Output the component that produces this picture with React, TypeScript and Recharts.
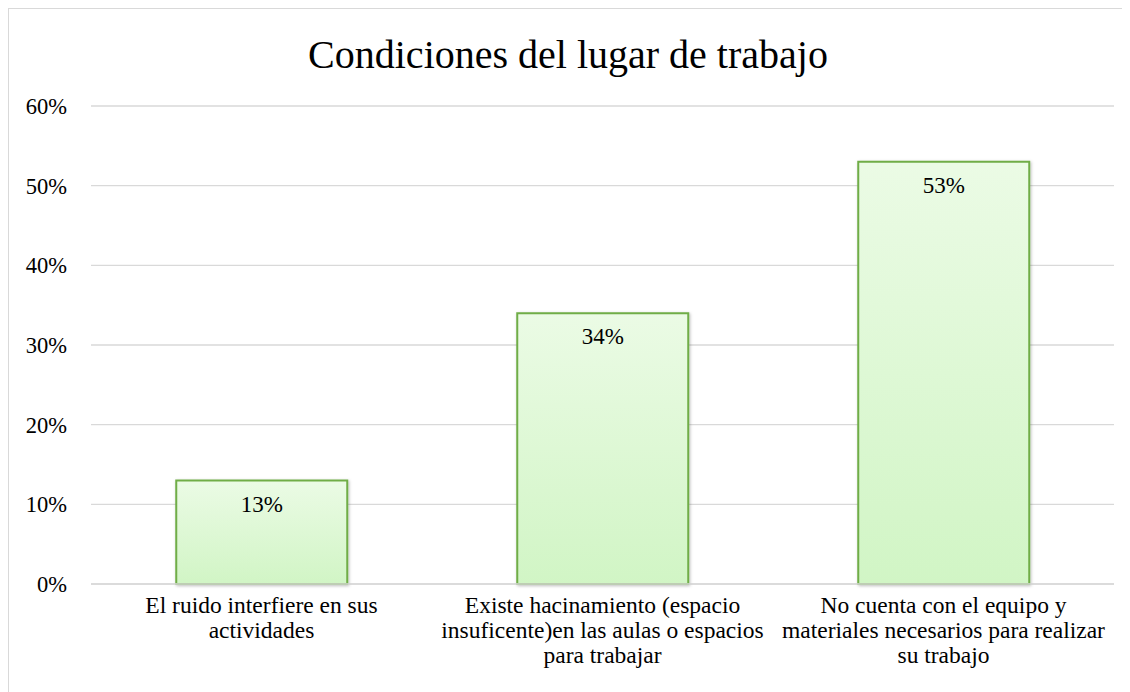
import React from 'react';
import { BarChart, Bar, XAxis, YAxis, CartesianGrid, LabelList } from 'recharts';

// Datos del gráfico
const categorias = [
  'El ruido interfiere en sus\nactividades',
  'Existe hacinamiento (espacio\ninsuficente)en las aulas o espacios\npara trabajar',
  'No cuenta con el equipo y\nmateriales necesarios para realizar\nsu trabajo',
];
const porcentajes = [13, 34, 53];
const ticksY = [0, 10, 20, 30, 40, 50, 60];

const titulo = 'Condiciones del lugar de trabajo';

const data = categorias.map((c, i) => ({ categoria: c, valor: porcentajes[i] }));

const FONT = '"Liberation Serif", "Times New Roman", serif';

// Tick del eje X en varias líneas
const CategoriaTick = ({ x, y, payload }: any) => {
  const lineas = String(payload.value).split('\n');
  return (
    <text x={x} y={y} textAnchor="middle" fill="#000" style={{ fontFamily: FONT, fontSize: 23.5 }}>
      {lineas.map((l, i) => (
        <tspan key={i} x={x} dy={i === 0 ? 21 : 25}>{l}</tspan>
      ))}
    </text>
  );
};

export default function App() {
  return (
    <div
      style={{
        width: 1118,
        height: 700,
        border: '1px solid #d9d9d9',
        position: 'relative',
        background: '#fff',
        fontFamily: FONT,
      }}
    >
      <div
        style={{
          position: 'absolute',
          top: 23,
          left: 0,
          width: '100%',
          textAlign: 'center',
          fontSize: 40,
          lineHeight: '46px',
          color: '#000',
        }}
      >
        {titulo}
      </div>
      <BarChart
        width={1118}
        height={700}
        data={data}
        margin={{ top: 97, right: 13, bottom: 25, left: 12 }}
        barCategoryGap="25%"
        style={{ fontFamily: FONT }}
      >
        <defs>
          <linearGradient id="verde" x1="0" y1="0" x2="0" y2="1">
            <stop offset="0%" stopColor="#ebfbe5" />
            <stop offset="100%" stopColor="#d1f5c5" />
          </linearGradient>
          <filter id="sombra" x="-10%" y="-10%" width="120%" height="120%">
            <feDropShadow dx="1" dy="1" stdDeviation="1.5" floodColor="#000" floodOpacity="0.25" />
          </filter>
        </defs>
        <CartesianGrid vertical={false} stroke="#d9d9d9" strokeWidth={1.3} />
        <XAxis
          dataKey="categoria"
          axisLine={{ stroke: '#d9d9d9', strokeWidth: 1.3 }}
          tickLine={false}
          interval={0}
          height={100}
          tick={<CategoriaTick />}
        />
        <YAxis
          domain={[0, 60]}
          ticks={ticksY}
          tickFormatter={(v: number) => `${v}%`}
          axisLine={false}
          tickLine={false}
          width={70}
          tickMargin={18}
          tick={{ fill: '#000', fontSize: 22.5, style: { fontFamily: FONT } }}
        />
        <Bar
          dataKey="valor"
          fill="url(#verde)"
          stroke="#70ad47"
          strokeWidth={2}
          filter="url(#sombra)"
          isAnimationActive={false}
        >
          <LabelList
            dataKey="valor"
            position="insideTop"
            offset={15}
            formatter={(v: any) => `${v}%`}
            style={{ fill: '#000', fontSize: 23, fontFamily: FONT }}
          />
        </Bar>
      </BarChart>
    </div>
  );
}
